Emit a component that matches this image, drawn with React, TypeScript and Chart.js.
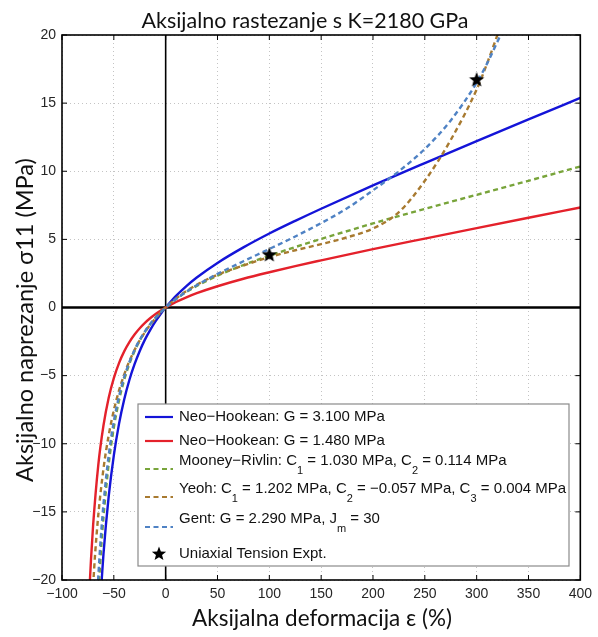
import React, { useEffect, useRef } from 'react';
import { Chart, registerables } from 'chart.js';

Chart.register(...registerables);

// ---------- data ----------
const xTicks = [-100, -50, 0, 50, 100, 150, 200, 250, 300, 350, 400];
const yTicks = [-20, -15, -10, -5, 0, 5, 10, 15, 20];

const neoAX = [-61.7, -60, -55, -50, -45, -40, -35, -30, -25, -20, -15, -10, -5, 0, 5, 10, 20, 30, 50, 75, 100, 125, 150, 200, 250, 300, 350, 400];
const neoAY = [-20.0, -18.1, -13.9, -10.85, -8.54, -6.75, -5.32, -4.16, -3.19, -2.36, -1.66, -1.04, -0.49, 0, 0.44, 0.85, 1.57, 2.2, 3.27, 4.41, 5.43, 6.36, 7.25, 8.96, 10.6, 12.21, 13.8, 15.38];

const neoBX = [-73.2, -72, -70, -65, -60, -55, -50, -45, -40, -35, -30, -25, -20, -15, -10, -5, 0, 5, 10, 20, 30, 50, 75, 100, 125, 150, 200, 250, 300, 350, 400];
const neoBY = [-20.2, -18.46, -16.0, -11.56, -8.66, -6.64, -5.18, -4.08, -3.22, -2.54, -1.98, -1.52, -1.13, -0.79, -0.495, -0.234, 0, 0.21, 0.405, 0.75, 1.05, 1.56, 2.11, 2.59, 3.04, 3.46, 4.28, 5.06, 5.83, 6.59, 7.34];

const mooneyX = [-64.2, -62, -60, -55, -50, -45, -40, -35, -30, -25, -20, -15, -10, -5, 0, 5, 10, 20, 30, 50, 75, 100, 125, 150, 200, 250, 300, 350, 400];
const mooneyY = [-20.08, -17.41, -15.39, -11.52, -8.81, -6.82, -5.31, -4.14, -3.2, -2.43, -1.79, -1.24, -0.774, -0.363, 0, 0.326, 0.62, 1.139, 1.583, 2.335, 3.118, 3.8, 4.436, 5.03, 6.17, 7.24, 8.27, 9.3, 10.35];

const yeohX = [-70, -68, -65, -60, -55, -50, -45, -40, -35, -30, -25, -20, -15, -10, -5, 0, 5, 10, 20, 30, 50, 75, 100, 125, 150, 175, 200, 225, 250, 275, 300, 310, 321];
const yeohY = [-20.4, -18.04, -15.24, -11.84, -9.4, -7.55, -6.09, -4.92, -3.94, -3.12, -2.42, -1.81, -1.275, -0.802, -0.379, 0, 0.344, 0.656, 1.204, 1.666, 2.406, 3.08, 3.7, 4.2, 4.65, 5.15, 5.8, 7.0, 9.3, 12.3, 16.0, 17.9, 20.2];

const gentX = [-65.2, -64, -62, -60, -55, -50, -45, -40, -35, -30, -25, -20, -15, -10, -5, 0, 5, 10, 20, 30, 50, 75, 100, 125, 150, 175, 200, 225, 250, 275, 300, 310, 320, 325];
const gentY = [-20.03, -18.5, -16.3, -14.44, -10.87, -8.36, -6.52, -5.11, -4.0, -3.11, -2.37, -1.754, -1.226, -0.767, -0.362, 0, 0.327, 0.627, 1.163, 1.634, 2.465, 3.396, 4.293, 5.213, 6.195, 7.278, 8.6, 10.0, 11.64, 13.73, 16.5, 17.9, 19.5, 20.3];

const exptX = [100, 300];
const exptY = [3.85, 16.7];

const titleText = 'Aksijalno rastezanje s K=2180 GPa';
const xTitleText = 'Aksijalna deformacija ε (%)';
const yTitleText = 'Aksijalno naprezanje σ11 (MPa)';

// legend labels: [text, isSubscript]
const legendNeoA: [string, boolean][] = [['Neo−Hookean: G = 3.100 MPa', false]];
const legendNeoB: [string, boolean][] = [['Neo−Hookean: G = 1.480 MPa', false]];
const legendMooney: [string, boolean][] = [['Mooney−Rivlin: C', false], ['1', true], [' = 1.030 MPa, C', false], ['2', true], [' = 0.114 MPa', false]];
const legendYeoh: [string, boolean][] = [['Yeoh: C', false], ['1', true], [' = 1.202 MPa, C', false], ['2', true], [' = −0.057 MPa, C', false], ['3', true], [' = 0.004 MPa', false]];
const legendGent: [string, boolean][] = [['Gent: G = 2.290 MPa, J', false], ['m', true], [' = 30', false]];
const legendExpt: [string, boolean][] = [['Uniaxial Tension Expt.', false]];

// ---------- styles ----------
const C_BLUE = '#1414d8';
const C_RED = '#e4212b';
const C_GREEN = '#78a43a';
const C_BROWN = '#a87a30';
const C_GENT = '#4f82c4';
const DASH = [5, 3.5];
const TITLE_FONT = 'Lato';
const TICK_FONT = '"Liberation Sans", Arial, sans-serif';

const pts = (xs: number[], ys: number[]) => xs.map((x, i) => ({ x, y: ys[i] }));

function makeStar(size: number, outer: number, inner: number) {
  const c = document.createElement('canvas');
  c.width = size;
  c.height = size;
  const g = c.getContext('2d')!;
  g.fillStyle = '#000';
  g.beginPath();
  for (let i = 0; i < 10; i++) {
    const r = i % 2 === 0 ? outer : inner;
    const a = -Math.PI / 2 + (i * Math.PI) / 5;
    const px = size / 2 + r * Math.cos(a);
    const py = size / 2 + r * Math.sin(a);
    if (i === 0) g.moveTo(px, py);
    else g.lineTo(px, py);
  }
  g.closePath();
  g.fill();
  return c;
}

function drawStarAt(ctx: CanvasRenderingContext2D, cx: number, cy: number, outer: number, inner: number) {
  ctx.beginPath();
  for (let i = 0; i < 10; i++) {
    const r = i % 2 === 0 ? outer : inner;
    const a = -Math.PI / 2 + (i * Math.PI) / 5;
    const px = cx + r * Math.cos(a);
    const py = cy + r * Math.sin(a);
    if (i === 0) ctx.moveTo(px, py);
    else ctx.lineTo(px, py);
  }
  ctx.closePath();
  ctx.fillStyle = '#000';
  ctx.fill();
}

function fitSize(ctx: CanvasRenderingContext2D, text: string, family: string, target: number) {
  ctx.font = `100px ${family}`;
  const w = ctx.measureText(text).width;
  return (100 * target) / w;
}

const minus = (v: number) => String(v).replace('-', '−');

const framePlugin = {
  id: 'frame',
  beforeDatasetsDraw(chart: any) {
    const { ctx, chartArea: a, scales } = chart;
    ctx.save();
    ctx.strokeStyle = '#000';
    const x0 = scales.x.getPixelForValue(0);
    const y0 = scales.y.getPixelForValue(0);
    ctx.lineWidth = 1.6;
    ctx.beginPath();
    ctx.moveTo(x0, a.top);
    ctx.lineTo(x0, a.bottom);
    ctx.stroke();
    ctx.lineWidth = 2.4;
    ctx.beginPath();
    ctx.moveTo(a.left, y0);
    ctx.lineTo(a.right, y0);
    ctx.stroke();
    ctx.restore();
  },
  afterDatasetsDraw(chart: any) {
    const { ctx, chartArea: a, scales } = chart;
    ctx.save();
    ctx.strokeStyle = '#000';
    ctx.lineWidth = 1;
    const tl = 5;
    ctx.beginPath();
    xTicks.forEach((v) => {
      const px = scales.x.getPixelForValue(v);
      ctx.moveTo(px, a.bottom);
      ctx.lineTo(px, a.bottom - tl);
      ctx.moveTo(px, a.top);
      ctx.lineTo(px, a.top + tl);
    });
    yTicks.forEach((v) => {
      const py = scales.y.getPixelForValue(v);
      ctx.moveTo(a.left, py);
      ctx.lineTo(a.left + tl, py);
      ctx.moveTo(a.right, py);
      ctx.lineTo(a.right - tl, py);
    });
    ctx.stroke();
    ctx.lineWidth = 1.6;
    ctx.strokeRect(a.left, a.top, a.right - a.left, a.bottom - a.top);
    ctx.restore();
  },
  afterDraw(chart: any) {
    const { ctx } = chart;
    ctx.save();
    ctx.fillStyle = '#111';
    // title
    let s = fitSize(ctx, titleText, TITLE_FONT, 327);
    ctx.font = `${s}px ${TITLE_FONT}`;
    ctx.textAlign = 'center';
    ctx.textBaseline = 'alphabetic';
    ctx.fillText(titleText, 305, 28);
    // x title
    s = fitSize(ctx, xTitleText, TITLE_FONT, 260);
    ctx.font = `${s}px ${TITLE_FONT}`;
    ctx.fillText(xTitleText, 322, 626);
    // y title
    s = fitSize(ctx, yTitleText, TITLE_FONT, 324);
    ctx.font = `${s}px ${TITLE_FONT}`;
    ctx.translate(33, 320);
    ctx.rotate(-Math.PI / 2);
    ctx.fillText(yTitleText, 0, 0);
    ctx.restore();

    // legend
    ctx.save();
    const bx = 138, by = 404, bw = 431, bh = 162;
    ctx.fillStyle = '#fff';
    ctx.fillRect(bx, by, bw, bh);
    ctx.strokeStyle = '#8a8a8a';
    ctx.lineWidth = 1.2;
    ctx.strokeRect(bx, by, bw, bh);
    const rows = [
      { color: C_BLUE, dash: [] as number[], y: 417, parts: legendNeoA },
      { color: C_RED, dash: [] as number[], y: 441, parts: legendNeoB },
      { color: C_GREEN, dash: DASH, y: 469, parts: legendMooney },
      { color: C_BROWN, dash: DASH, y: 497, parts: legendYeoh },
      { color: C_GENT, dash: DASH, y: 527, parts: legendGent },
      { color: '', dash: [] as number[], y: 554, parts: legendExpt },
    ];
    rows.forEach((r) => {
      if (r.color) {
        ctx.strokeStyle = r.color;
        ctx.lineWidth = 2.2;
        ctx.setLineDash(r.dash);
        ctx.beginPath();
        ctx.moveTo(145, r.y);
        ctx.lineTo(173, r.y);
        ctx.stroke();
        ctx.setLineDash([]);
      } else {
        drawStarAt(ctx, 159, r.y, 7.5, 3.2);
      }
      const hasSub = r.parts.some((p) => p[1]);
      const mainY = hasSub ? r.y - 8.5 : r.y;
      const subY = r.y + 1.5;
      let x = 179;
      ctx.textAlign = 'left';
      ctx.textBaseline = 'middle';
      ctx.fillStyle = '#111';
      r.parts.forEach(([t, sub]) => {
        ctx.font = sub ? `11px ${TICK_FONT}` : `15px ${TICK_FONT}`;
        ctx.fillText(t, x, sub ? subY : mainY);
        x += ctx.measureText(t).width;
      });
    });
    ctx.restore();
  },
};

export default function App() {
  const ref = useRef<HTMLCanvasElement | null>(null);
  useEffect(() => {
    if (!ref.current) return;
    const star = makeStar(20, 8, 3.4);
    const lineDs = (label: string, xs: number[], ys: number[], color: string, dash: number[]) => ({
      label,
      data: pts(xs, ys),
      borderColor: color,
      backgroundColor: color,
      borderWidth: 2.4,
      borderDash: dash,
      pointRadius: 0,
      fill: false,
      cubicInterpolationMode: 'monotone' as const,
    });
    const chart = new Chart(ref.current, {
      type: 'line',
      data: {
        datasets: [
          {
            label: 'Uniaxial Tension Expt.',
            data: pts(exptX, exptY),
            showLine: false,
            pointStyle: star as any,
            pointRadius: 8,
            borderColor: '#000',
            backgroundColor: '#000',
          } as any,
          lineDs('Gent', gentX, gentY, C_GENT, DASH),
          lineDs('Yeoh', yeohX, yeohY, C_BROWN, DASH),
          lineDs('Mooney-Rivlin', mooneyX, mooneyY, C_GREEN, DASH),
          lineDs('Neo-Hookean 1.480', neoBX, neoBY, C_RED, []),
          lineDs('Neo-Hookean 3.100', neoAX, neoAY, C_BLUE, []),
        ],
      },
      options: {
        animation: false,
        responsive: false,
        layout: { padding: { top: 35, right: 15, left: 0, bottom: 0 } },
        plugins: {
          legend: { display: false },
          title: { display: false },
          tooltip: { enabled: false },
        },
        scales: {
          x: {
            type: 'linear',
            min: -100,
            max: 400,
            afterFit: (s: any) => {
              s.height = 57;
            },
            afterBuildTicks: (s: any) => {
              s.ticks = xTicks.map((v) => ({ value: v }));
            },
            ticks: {
              autoSkip: false,
              maxRotation: 0,
              padding: 6,
              color: '#262626',
              font: { family: TICK_FONT, size: 14 },
              callback: (v: any) => minus(v),
            },
            grid: { color: '#c4c4c4', lineWidth: 1, drawTicks: false },
            border: { display: false, dash: [1, 3] },
          },
          y: {
            type: 'linear',
            min: -20,
            max: 20,
            afterFit: (s: any) => {
              s.width = 62;
            },
            afterBuildTicks: (s: any) => {
              s.ticks = yTicks.map((v) => ({ value: v }));
            },
            ticks: {
              padding: 6,
              color: '#262626',
              font: { family: TICK_FONT, size: 14 },
              callback: (v: any) => minus(v),
            },
            grid: { color: '#c4c4c4', lineWidth: 1, drawTicks: false },
            border: { display: false, dash: [1, 3] },
          },
        },
      } as any,
      plugins: [framePlugin],
    });
    return () => chart.destroy();
  }, []);
  return (
    <div style={{ position: 'fixed', left: 0, top: 0, width: 598, height: 637, background: '#fff' }}>
      <canvas ref={ref} width={598} height={637} style={{ width: 598, height: 637, display: 'block' }} />
    </div>
  );
}
